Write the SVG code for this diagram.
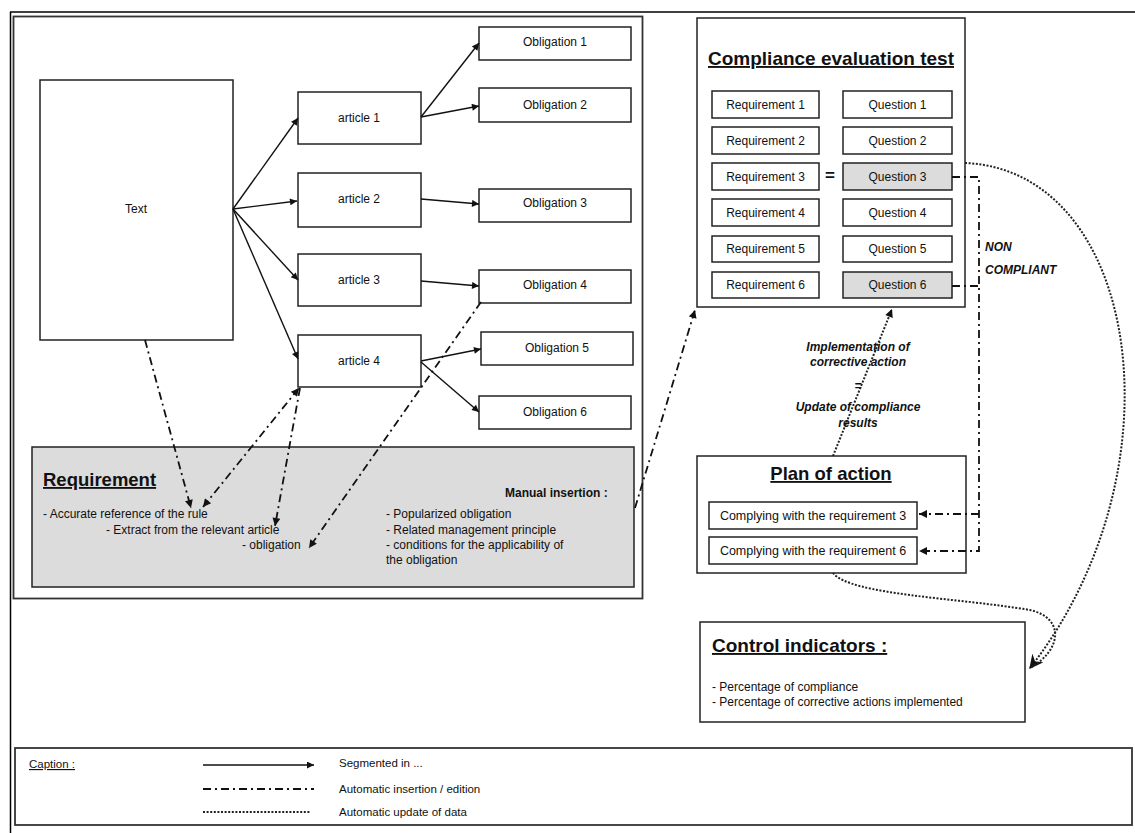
<svg xmlns="http://www.w3.org/2000/svg" width="1135" height="833" viewBox="0 0 1135 833">
<style>
text{font-family:"Liberation Sans",Arial,sans-serif;fill:#111}
.box{fill:#fff;stroke:#222;stroke-width:1.5}
.gray{fill:#dcdcdc;stroke:#222;stroke-width:1.5}
.t12{font-size:12px}
.c{text-anchor:middle}
.ttl{font-weight:bold;text-decoration:underline}
.bi{font-weight:bold;font-style:italic;font-size:12px}
.solid{fill:none;stroke:#111;stroke-width:1.4}
.dd{fill:none;stroke:#111;stroke-width:1.8;stroke-dasharray:8 4 2 4}
.dot{fill:none;stroke:#222;stroke-width:2;stroke-dasharray:2 1.6}
</style>
<defs>
<marker id="ah" viewBox="0 0 10 10" refX="10" refY="5" markerWidth="9" markerHeight="7" markerUnits="userSpaceOnUse" orient="auto-start-reverse">
<path d="M0,0 L10,5 L0,10 z" fill="#111"/>
</marker>
<marker id="ahd" viewBox="0 0 10 10" refX="10" refY="5" markerWidth="11" markerHeight="8" markerUnits="userSpaceOnUse" orient="auto-start-reverse">
<path d="M0,0 L10,5 L0,10 z" fill="#111"/>
</marker>
<marker id="open" viewBox="0 0 12 12" refX="11" refY="6" markerWidth="14" markerHeight="14" markerUnits="userSpaceOnUse" orient="auto">
<path d="M0,0 L12,6 L0,12 L4,6 z" fill="#111"/>
</marker>
</defs>

<g id="frame">
<line x1="10" y1="12" x2="1135" y2="12" stroke="#000" stroke-width="1.5"/>
<line x1="10.5" y1="12" x2="10.5" y2="833" stroke="#000" stroke-width="1.5"/>
<rect x="13.5" y="16.5" width="629" height="582" fill="#fff" stroke="#333" stroke-width="1.8"/>
</g>

<g id="text-node"><rect class="box" x="40" y="80" width="193" height="260"/><text class="t12 c" x="136" y="213">Text</text></g>

<g id="article1"><rect class="box" x="298" y="92" width="123" height="52"/><text class="t12 c" x="359" y="122">article 1</text></g>
<g id="article2"><rect class="box" x="298" y="173" width="123" height="54"/><text class="t12 c" x="359" y="203">article 2</text></g>
<g id="article3"><rect class="box" x="298" y="254" width="123" height="52"/><text class="t12 c" x="359" y="284">article 3</text></g>
<g id="article4"><rect class="box" x="298" y="335" width="123" height="52"/><text class="t12 c" x="359" y="365">article 4</text></g>

<g id="obligation1"><rect class="box" x="479" y="27" width="152" height="33"/><text class="t12 c" x="555" y="46">Obligation 1</text></g>
<g id="obligation2"><rect class="box" x="479" y="88" width="152" height="34"/><text class="t12 c" x="555" y="109">Obligation 2</text></g>
<g id="obligation3"><rect class="box" x="479" y="189" width="152" height="33"/><text class="t12 c" x="555" y="207">Obligation 3</text></g>
<g id="obligation4"><rect class="box" x="479" y="270" width="152" height="33"/><text class="t12 c" x="555" y="289">Obligation 4</text></g>
<g id="obligation5"><rect class="box" x="481" y="332" width="152" height="33"/><text class="t12 c" x="557" y="352">Obligation 5</text></g>
<g id="obligation6"><rect class="box" x="479" y="396" width="152" height="33"/><text class="t12 c" x="555" y="416">Obligation 6</text></g>

<g id="requirement">
<rect class="gray" x="32" y="447" width="602" height="140"/>
<text class="ttl" x="43" y="486" font-size="18.5">Requirement</text>
<text x="505" y="497" font-size="12" font-weight="bold">Manual insertion :</text>
<text class="t12" x="43" y="518">- Accurate reference of the rule</text>
<text class="t12" x="106" y="534">- Extract from the relevant article</text>
<text class="t12" x="242" y="549">- obligation</text>
<text class="t12" x="386" y="518">- Popularized obligation</text>
<text class="t12" x="386" y="534">- Related management principle</text>
<text class="t12" x="386" y="549">- conditions for the applicability of</text>
<text class="t12" x="386" y="564">the obligation</text>
</g>

<g id="compliance-test">
<rect class="box" x="697" y="18" width="268" height="289"/>
<text class="ttl" x="708" y="65" font-size="19">Compliance evaluation test</text>
<rect class="box" x="712" y="91" width="107" height="27"/><text class="t12 c" x="765.5" y="109">Requirement 1</text>
<rect class="box" x="712" y="127" width="107" height="27"/><text class="t12 c" x="765.5" y="145">Requirement 2</text>
<rect class="box" x="712" y="163" width="107" height="27"/><text class="t12 c" x="765.5" y="181">Requirement 3</text>
<rect class="box" x="712" y="199" width="107" height="27"/><text class="t12 c" x="765.5" y="217">Requirement 4</text>
<rect class="box" x="712" y="236" width="107" height="26"/><text class="t12 c" x="765.5" y="253">Requirement 5</text>
<rect class="box" x="712" y="272" width="107" height="26"/><text class="t12 c" x="765.5" y="289">Requirement 6</text>
<rect class="box" x="843" y="91" width="109" height="27"/><text class="t12 c" x="897.5" y="109">Question 1</text>
<rect class="box" x="843" y="127" width="109" height="27"/><text class="t12 c" x="897.5" y="145">Question 2</text>
<rect class="gray" x="843" y="163" width="109" height="27"/><text class="t12 c" x="897.5" y="181">Question 3</text>
<rect class="box" x="843" y="199" width="109" height="27"/><text class="t12 c" x="897.5" y="217">Question 4</text>
<rect class="box" x="843" y="236" width="109" height="26"/><text class="t12 c" x="897.5" y="253">Question 5</text>
<rect class="gray" x="843" y="272" width="109" height="26"/><text class="t12 c" x="897.5" y="289">Question 6</text>
<text class="c" x="830" y="181" font-size="17" font-weight="bold">=</text>
</g>

<g id="plan-of-action">
<rect class="box" x="697" y="456" width="269" height="117"/>
<text class="ttl c" x="831" y="480" font-size="18.5">Plan of action</text>
<rect class="box" x="709" y="502" width="208" height="27"/><text class="c" x="813" y="520" font-size="12.5">Complying with the requirement 3</text>
<rect class="box" x="709" y="537" width="208" height="27"/><text class="c" x="813" y="555" font-size="12.5">Complying with the requirement 6</text>
</g>

<g id="control-indicators">
<rect class="box" x="700" y="622" width="325" height="100"/>
<text class="ttl" x="712" y="652" font-size="19">Control indicators :</text>
<text class="t12" x="712" y="691">- Percentage of compliance</text>
<text class="t12" x="712" y="706">- Percentage of corrective actions implemented</text>
</g>

<g id="labels">
<text class="bi c" x="858" y="351">Implementation of</text>
<text class="bi c" x="858" y="366">corrective action</text>
<text class="bi c" x="858" y="390">=</text>
<text class="bi c" x="858" y="411">Update of compliance</text>
<text class="bi c" x="858" y="427">results</text>
<text class="bi" x="985" y="251">NON</text>
<text class="bi" x="985" y="274">COMPLIANT</text>
</g>

<g id="connectors">
<line class="solid" x1="233" y1="209" x2="298" y2="118" marker-end="url(#ah)"/>
<line class="solid" x1="233" y1="209" x2="297" y2="201" marker-end="url(#ah)"/>
<line class="solid" x1="233" y1="209" x2="298" y2="280" marker-end="url(#ah)"/>
<line class="solid" x1="233" y1="209" x2="298" y2="359" marker-end="url(#ah)"/>
<line class="solid" x1="421" y1="117" x2="479" y2="43" marker-end="url(#ah)"/>
<line class="solid" x1="421" y1="117" x2="479" y2="106" marker-end="url(#ah)"/>
<line class="solid" x1="421" y1="199" x2="479" y2="204" marker-end="url(#ah)"/>
<line class="solid" x1="421" y1="281" x2="479" y2="286" marker-end="url(#ah)"/>
<line class="solid" x1="421" y1="361" x2="481" y2="349" marker-end="url(#ah)"/>
<line class="solid" x1="421" y1="362" x2="479" y2="412" marker-end="url(#ah)"/>

<line class="dd" x1="145" y1="340" x2="191" y2="508" marker-end="url(#ahd)"/>
<line class="dd" x1="203" y1="507" x2="299" y2="388" marker-start="url(#ahd)" marker-end="url(#ahd)"/>
<line class="dd" x1="300" y1="388" x2="275" y2="526" marker-end="url(#ahd)"/>
<line class="dd" x1="481" y1="302" x2="309" y2="548" marker-end="url(#ahd)"/>
<line class="dd" x1="635" y1="508" x2="695" y2="310" marker-end="url(#ahd)"/>

<path class="dd" d="M952,177 H979 V551 H919" marker-end="url(#ahd)"/>
<path class="dd" d="M952,286 H979"/>
<path class="dd" d="M979,514 H919" marker-end="url(#ahd)"/>

<line class="dot" x1="833" y1="456" x2="892" y2="309" marker-end="url(#ahd)"/>
<path class="dot" d="M965,163 C1140,170 1185,470 1030,668" marker-end="url(#open)"/>
<path class="dot" d="M833,573 C850,595 960,598 1030,610 C1065,618 1062,650 1030,668"/>
</g>

<g id="caption">
<rect x="15" y="748" width="1117" height="77" fill="#fff" stroke="#333" stroke-width="1.8"/>
<text x="29" y="768" font-size="11.5" text-decoration="underline">Caption :</text>
<line class="solid" x1="203" y1="765" x2="314" y2="765" marker-end="url(#ah)"/>
<line class="dd" x1="203" y1="789" x2="314" y2="789"/>
<line class="dot" x1="203" y1="812" x2="310" y2="812" stroke-width="1.5"/>
<text x="339" y="767" font-size="11.5">Segmented in ...</text>
<text x="339" y="793" font-size="11.5">Automatic insertion / edition</text>
<text x="339" y="816" font-size="11.5">Automatic update of data</text>
</g>
</svg>
